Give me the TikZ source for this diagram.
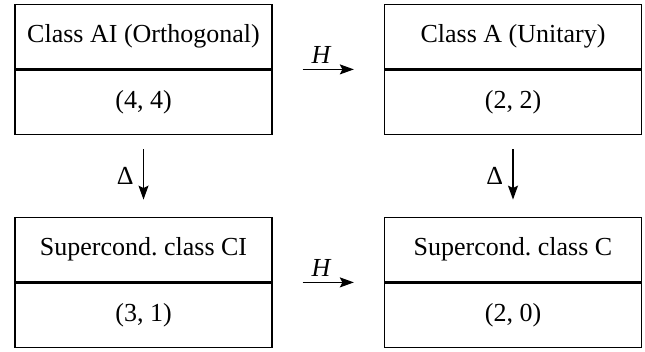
\documentclass[tikz,border=0pt]{standalone}
\usepackage{fontspec}
\setmainfont{Liberation Serif}
\usetikzlibrary{arrows.meta}
\frenchspacing
\begin{document}
\begin{tikzpicture}[x=1pt,y=1pt,
  cell/.style={draw, line width=1.3pt, minimum width=257pt, minimum height=64.5pt,
    inner sep=0pt, font=\fontsize{26}{30}\selectfont},
  map/.style={-{Stealth[length=14pt,width=10pt,inset=2.5pt]}, line width=1.3pt},
  lbl/.style={font=\fontsize{26}{30}\selectfont}]
\useasboundingbox (0,0) rectangle (645,351);
% upper row
\node[cell] (aiT) at (143.5,314.5) {Class AI (Orthogonal)};
\node[cell, anchor=north] (aiB) at (aiT.south) {(4, 4)};
\node[cell] (aT) at (513,314.5) {Class A (Unitary)};
\node[cell, anchor=north] (aB) at (aT.south) {(2, 2)};
% lower row
\node[cell] (ciT) at (143.5,101.5) {Supercond. class CI};
\node[cell, anchor=north] (ciB) at (ciT.south) {(3, 1)};
\node[cell] (cT) at (513,101.5) {Supercond. class C};
\node[cell, anchor=north] (cB) at (cT.south) {(2, 0)};
% H maps
\draw[map, shorten <=30pt, shorten >=30pt] (aiT.south east) -- node[lbl, above=2pt, pos=0.44] {\textit{H}} (aT.south west);
\draw[map, shorten <=30pt, shorten >=30pt] (ciT.south east) -- node[lbl, above=2pt, pos=0.44] {\textit{H}} (cT.south west);
% Delta maps
\draw[map, shorten <=14pt, shorten >=17pt] (aiB.south) -- node[lbl, left=6pt] {Δ} (ciT.north);
\draw[map, shorten <=14pt, shorten >=17pt] (aB.south) -- node[lbl, left=6pt] {Δ} (cT.north);
\end{tikzpicture}
\end{document}
